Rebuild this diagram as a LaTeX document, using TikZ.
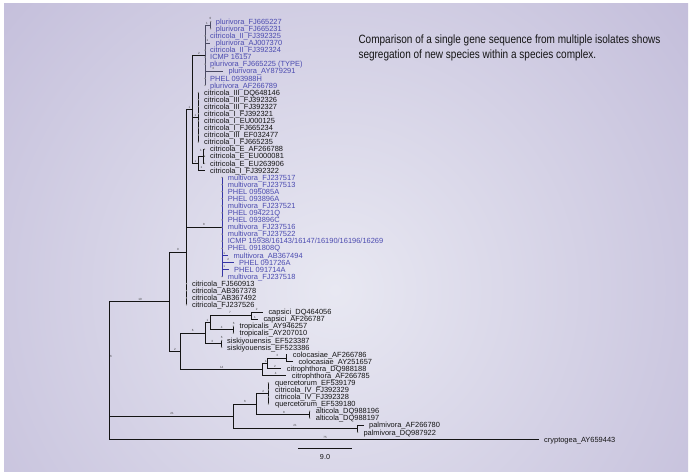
\documentclass[tikz,border=0pt]{standalone}
\usepackage{fontspec}
\setmainfont{Liberation Sans}
\newfontfamily\headfont[FakeStretch=0.835]{Liberation Sans}
\usepackage{xcolor}
\usepackage{tikz}
\usetikzlibrary{positioning,calc}
\definecolor{panelout}{HTML}{B3ABD0}
\definecolor{panelin}{HTML}{E8E8F2}
\definecolor{taxblue}{HTML}{4B4BB0}
\definecolor{cladeblue}{HTML}{3535A5}
\definecolor{plurline}{HTML}{4A4A62}
\definecolor{taxblack}{HTML}{141414}

\begin{document}
\begin{tikzpicture}[x=1pt,y=-1pt,
    branch/.style={line width=0.8pt,taxblack},
    taxon/.style={anchor=base west,inner sep=0pt,font=\fontsize{7.45}{7.45}\selectfont},
    bval/.style={inner sep=0pt,font=\fontsize{3}{3}\selectfont,text=black!75},
    zerodot/.style={fill=black!45,draw=none}]

\useasboundingbox (0,0) rectangle (693,476);
% Panel
\fill[white] (0,0) rectangle (693,476);
\begin{scope}
  \clip (4,4) rectangle (688,471);
  \fill[panelout] (4,4) rectangle (688,471);
  \shade[inner color=panelin,outer color=panelout] (335,290) circle (660);
\end{scope}

% Heading
\node[taxon,font=\headfont\fontsize{12}{12}\selectfont,text=taxblack] (head1) at (358.3,43.5)
  {Comparison of a single gene sequence from multiple isolates shows};
\node[taxon,font=\headfont\fontsize{12}{12}\selectfont,text=taxblack] (head2) at (358.3,58.5)
  {segregation of new species within a species complex.};

% Inner nodes of the tree
\coordinate (root) at (109.6,370.5);
\coordinate (nA) at (169.3,301.7);
\coordinate (nA1) at (186.5,252);
\coordinate (nP) at (192.5,109.3);
\coordinate (nS) at (205,55.3);
\coordinate (nPl) at (210.7,25.2);
\coordinate (nQ) at (198.3,117.3);
\coordinate (nR) at (198.8,163.3);
\coordinate (nE) at (203.5,156.2);
\coordinate (nM) at (222,227);
\coordinate (nA2) at (180.3,351.4);
\coordinate (nC) at (205,333.2);
\coordinate (nC1) at (210.7,322.6);
\coordinate (nCap) at (251.7,315.5);
\coordinate (nTrop) at (233.3,329.7);
\coordinate (nSis) at (221.7,343.8);
\coordinate (nD) at (262.7,369.5);
\coordinate (nD1) at (267.3,363.3);
\coordinate (nCol) at (286,358);
\coordinate (nB) at (233.3,416.4);
\coordinate (nB1) at (256.7,404);
\coordinate (nQ4) at (268.3,393.4);
\coordinate (nAlt) at (309.8,414.6);
\coordinate (nPal) at (357.7,428.8);

% Backbone
\draw[branch] (root) |- (nA) (root) |- (nB);
\draw[branch] (nA) |- (nA1) (nA) |- (nA2);
\draw[branch] (nA1) |- (nP) (nA1) |- (nM);
\draw[branch] (nP) |- (nS) (nP) |- (nQ) (nP) |- (nR);
\draw[branch,plurline] (nS) |- (nPl);
\draw[branch] (nR) |- (nE);
\draw[branch] (nA2) |- (nC) (nA2) |- (nD);
\draw[branch] (nC) |- (nC1) (nC) |- (nSis);
\draw[branch] (nC1) |- (nCap) (nC1) |- (nTrop);
\draw[branch] (nD) |- (nD1) (nD1) |- (nCol);
\draw[branch] (nB) |- (nB1) (nB) |- (nPal);
\draw[branch] (nB1) |- (nQ4) (nB1) |- (nAlt);

% Taxa
\foreach \i/\pa/\tp/\xx/\lab/\tcol/\lcol in {
  1/nPl/210.7/215.7/plurivora\_FJ665227/taxblue/plurline,
  2/nPl/210.7/215.7/plurivora\_FJ665231/taxblue/plurline,
  3/nS/205/210/citricola\_II\_FJ392325/taxblue/plurline,
  4/nS/210.2/215.7/plurivora\_AJ007370/taxblue/plurline,
  5/nS/205/210/citricola\_II\_FJ392324/taxblue/plurline,
  6/nS/205/210/ICMP 16157/taxblue/plurline,
  7/nS/205/210/plurivora\_FJ665225 (TYPE)/taxblue/plurline,
  8/nS/222.8/228.3/plurivora\_AY879291/taxblue/plurline,
  9/nS/205/210/PHEL 093988H/taxblue/plurline,
  10/nS/205/210/plurivora\_AF266789/taxblue/plurline,
  11/nQ/198.3/204/citricola\_III\_DQ648146/taxblack/taxblack,
  12/nQ/198.3/204/citricola\_III\_FJ392326/taxblack/taxblack,
  13/nQ/198.3/204/citricola\_III\_FJ392327/taxblack/taxblack,
  14/nQ/198.3/204/citricola\_I\_FJ392321/taxblack/taxblack,
  15/nQ/198.3/204/citricola\_I\_EU000125/taxblack/taxblack,
  16/nQ/198.3/204/citricola\_I\_FJ665234/taxblack/taxblack,
  17/nQ/198.3/204/citricola\_III\_EF032477/taxblack/taxblack,
  18/nQ/198.3/204/citricola\_I\_FJ665235/taxblack/taxblack,
  19/nE/204.5/210/citricola\_E\_AF266788/taxblack/taxblack,
  20/nE/204.5/210/citricola\_E\_EU000081/taxblack/taxblack,
  21/nE/204.5/210/citricola\_E\_EU263906/taxblack/taxblack,
  22/nR/204.5/210/citricola\_I\_FJ392322/taxblack/taxblack,
  23/nM/222/227.7/multivora\_FJ237517/taxblue/cladeblue,
  24/nM/222/227.7/multivora\_FJ237513/taxblue/cladeblue,
  25/nM/222/227.7/PHEL 095085A/taxblue/cladeblue,
  26/nM/222/227.7/PHEL 093896A/taxblue/cladeblue,
  27/nM/222/227.7/multivora\_FJ237521/taxblue/cladeblue,
  28/nM/222/227.7/PHEL 094221Q/taxblue/cladeblue,
  29/nM/222/227.7/PHEL 093896C/taxblue/cladeblue,
  30/nM/222/227.7/multivora\_FJ237516/taxblue/cladeblue,
  31/nM/222/227.7/multivora\_FJ237522/taxblue/cladeblue,
  32/nM/222/227.7/{ICMP 15938/16143/16147/16190/16196/16269}/taxblue/cladeblue,
  33/nM/222/227.7/PHEL 091808Q/taxblue/cladeblue,
  34/nM/227.8/233.3/multivora\_AB367494/taxblue/cladeblue,
  35/nM/233.5/239/PHEL 091726A/taxblue/cladeblue,
  36/nM/228.5/234/PHEL 091714A/taxblue/cladeblue,
  37/nM/222/227.7/multivora\_FJ237518/taxblue/cladeblue,
  38/nA1/186.5/191.8/citricola\_FJ560913/taxblack/taxblack,
  39/nA1/186.5/191.8/citricola\_AB367378/taxblack/taxblack,
  40/nA1/186.5/191.8/citricola\_AB367492/taxblack/taxblack,
  41/nA1/186.5/191.8/citricola\_FJ237526/taxblack/taxblack,
  42/nCap/262.8/268.3/capsici\_DQ464056/taxblack/taxblack,
  43/nCap/257.8/263.3/capsici\_AF266787/taxblack/taxblack,
  44/nTrop/233.3/239.3/tropicalis\_AY946257/taxblack/taxblack,
  45/nTrop/233.3/239.3/tropicalis\_AY207010/taxblack/taxblack,
  46/nSis/221.7/227/siskiyouensis\_EF523387/taxblack/taxblack,
  47/nSis/221.7/227/siskiyouensis\_EF523386/taxblack/taxblack,
  48/nCol/287.2/292.7/colocasiae\_AF266786/taxblack/taxblack,
  49/nCol/292.8/298.3/colocasiae\_AY251657/taxblack/taxblack,
  50/nD1/281.2/286.7/citrophthora\_DQ988188/taxblack/taxblack,
  51/nD/286.2/291.7/citrophthora\_AF266785/taxblack/taxblack,
  52/nQ4/268.3/275/quercetorum\_EF539179/taxblack/taxblack,
  53/nQ4/268.3/275/citricola\_IV\_FJ392329/taxblack/taxblack,
  54/nQ4/268.3/275/citricola\_IV\_FJ392328/taxblack/taxblack,
  55/nQ4/268.3/275/quercetorum\_EF539180/taxblack/taxblack,
  56/nAlt/309.8/315.7/alticola\_DQ988196/taxblack/taxblack,
  57/nAlt/309.8/315.7/alticola\_DQ988197/taxblack/taxblack,
  58/nPal/363.5/369/palmivora\_AF266780/taxblack/taxblack,
  59/nPal/357.7/363.3/palmivora\_DQ987922/taxblack/taxblack,
  60/root/538.5/544/cryptogea\_AY659443/taxblack/taxblack}
{
  \coordinate (e\i) at (\tp,{21.7+(\i-1)*7.08});
  \draw[branch,\lcol] (\pa) |- (e\i);
  \node[taxon,text=\tcol] (t\i) at (\xx,{24.4+(\i-1)*7.08}) {\lab};
}

% Zero length branches
\foreach \i in {1,2,3,5,6,7,9,10,11,12,13,14,15,16,17,18,19,20,21,23,24,25,26,27,28,29,30,31,32,33,37,38,39,40,41,44,45,46,47,52,53,54,55,56,57,59}
  \fill[zerodot] (e\i) circle (0.75);

% Branch lengths
\foreach \x/\y/\v [count=\k] in {140/299/10, 111/356.5/6, 172/413.5/21, 325/437/75,
  178/249.5/9, 175/349/2, 189.5/107/1, 204/224.5/8, 199/53.5/2, 195.5/115/1,
  195.5/161/1, 207/23/1, 210.5/18.5/0, 207.5/40.5/1, 213.3/68.7/3, 201/150/1,
  201.5/167/1, 224.3/253.3/1, 228.3/259.3/2, 224.3/266/1,
  192.7/330.7/6, 221.7/367.3/14, 207.5/320/1, 230/312.3/7, 221.7/327.7/4,
  212.3/341/3, 256.7/309.3/2, 255/317.5/1, 233.8/323/6, 221.7/337.3/6,
  266/361.5/1, 277.3/355/3, 275/366.5/2, 275.7/373.3/4,
  245/401/6, 263.3/391/2, 284/412.7/8, 295/425.7/21}
  \node[bval] (bl\k) at (\x,\y) {\v};

% Scale bar
\coordinate (s0) at (298.3,448.3);
\coordinate (s1) at (351.7,448.3);
\draw[branch] (s0) -- (s1);
\node[inner sep=0pt,font=\fontsize{7.2}{7.2}\selectfont,text=taxblack] (scale) at (325,457) {9.0};
\end{tikzpicture}
\end{document}
